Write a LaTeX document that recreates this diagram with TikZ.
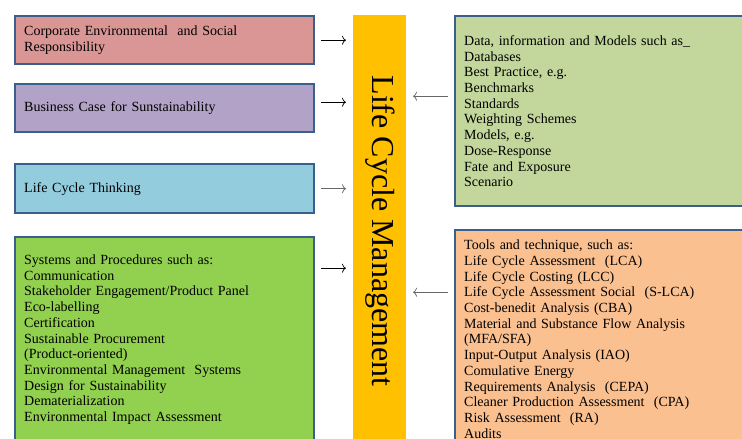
\documentclass[tikz,border=0pt]{standalone}
\usepackage{fontspec}
\setmainfont{Liberation Serif}
\usepackage{xcolor}
\usetikzlibrary{arrows.meta, positioning, calc}

\definecolor{edge}{HTML}{3A5F8B}
\definecolor{csrred}{HTML}{D99694}
\definecolor{bizpurple}{HTML}{B3A2C7}
\definecolor{thinkblue}{HTML}{93CDDD}
\definecolor{sysgreen}{HTML}{92D050}
\definecolor{lcmgold}{HTML}{FFC000}
\definecolor{dataolive}{HTML}{C3D69B}
\definecolor{toolpeach}{HTML}{FAC090}

\begin{document}
\begin{tikzpicture}[x=1pt, y=-1pt]
    % Styles
    \tikzstyle{block} = [rectangle, draw=edge, line width=2.4pt, anchor=north west, inner xsep=9pt, inner ysep=2pt, align=left, font=\fontsize{14}{15.7}\selectfont]
    \tikzstyle{leftblock} = [block, minimum width=299pt, text width=281pt]
    \tikzstyle{rightblock} = [block, minimum width=300pt, text width=282pt]
    \tikzstyle{arrow} = [line width=0.7pt, -{To[length=4pt, width=9pt]}, shorten <=6pt, shorten >=7pt]

    \useasboundingbox (0,0) rectangle (742,439);
    \clip (0,0) rectangle (742,439);

    % Centre bar
    \fill[lcmgold] (353,15) rectangle (406,445);
    \node[rotate=-90, font=\fontsize{32}{32}\selectfont] (lcm) at (380,231) {Life Cycle Management};
    \coordinate (barleft) at (353,231);
    \coordinate (barright) at (406,231);

    % Left column
    \node[leftblock, fill=csrred, minimum height=48pt] (csr) at (14,15) {Corporate Environmental\ \ and Social\\Responsibility};
    \node[leftblock, fill=bizpurple, minimum height=48pt] (biz) at (14,83) {Business Case for Sunstainability};
    \node[leftblock, fill=thinkblue, minimum height=49pt] (think) at (14,163) {Life Cycle Thinking};
    \node[leftblock, fill=sysgreen, minimum height=205pt] (systems) at (14,236) {Systems and Procedures such as:\\Communication\\Stakeholder Engagement/Product Panel\\Eco-labelling\\Certification\\Sustainable Procurement\\(Product-oriented)\\Environmental Management\ \ Systems\\Design for Sustainability\\Dematerialization\\Environmental Impact Assessment};

    % Right column
    \node[rightblock, fill=dataolive, minimum height=190pt] (data) at (454,15) {Data, information and Models such as\_\\Databases\\Best Practice, e.g.\\Benchmarks\\Standards\\Weighting Schemes\\Models, e.g.\\Dose-Response\\Fate and Exposure\\Scenario};
    \node[rightblock, fill=toolpeach, minimum height=218pt] (tools) at (454,229) {Tools and technique, such as:\\Life Cycle Assessment\ \ (LCA)\\Life Cycle Costing (LCC)\\Life Cycle Assessment Social\ \ (S-LCA)\\Cost-benedit Analysis (CBA)\\Material and Substance Flow Analysis\\(MFA/SFA)\\Input-Output Analysis (IAO)\\Comulative Energy\\Requirements Analysis\ \ (CEPA)\\Cleaner Production Assessment\ \ (CPA)\\Risk Assessment\ \ (RA)\\Audits};

    % Arrows into the bar
    \draw[arrow] (csr.east) -- (csr.east -| barleft);
    \draw[arrow] ([yshift=6pt]biz.east) -- ([yshift=6pt]biz.east -| barleft);
    \draw[arrow, black!60] (think.east) -- (think.east -| barleft);
    \draw[arrow] ([yshift=71.5pt]systems.east) -- ([yshift=71.5pt]systems.east -| barleft);
    \draw[arrow, black!60] ([yshift=15pt]data.west) -- ([yshift=15pt]data.west -| barright);
    \draw[arrow, black!60] ([yshift=47pt]tools.west) -- ([yshift=47pt]tools.west -| barright);
\end{tikzpicture}
\end{document}
